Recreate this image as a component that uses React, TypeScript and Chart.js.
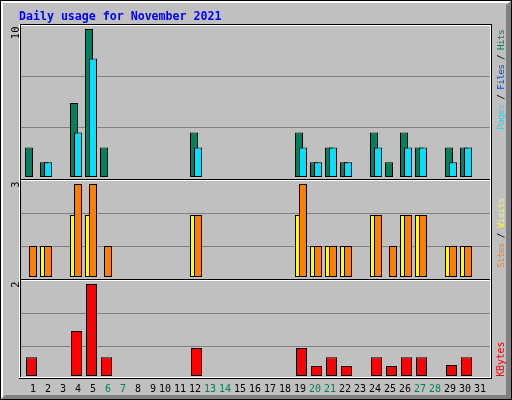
import { useEffect, useRef } from 'react';
import { Chart, registerables } from 'chart.js';

Chart.register(...registerables);

// ---------- data ----------
const TITLE = 'Daily usage for November 2021';
const DAYS = [1, 2, 3, 4, 5, 6, 7, 8, 9, 10, 11, 12, 13, 14, 15, 16, 17, 18, 19, 20, 21, 22, 23, 24, 25, 26, 27, 28, 29, 30, 31];
const WEEKEND_DAYS = [6, 7, 13, 14, 20, 21, 27, 28];
const HITS = [2, 1, 0, 5, 10, 2, 0, 0, 0, 0, 0, 3, 0, 0, 0, 0, 0, 0, 3, 1, 2, 1, 0, 3, 1, 3, 2, 0, 2, 2, 0];
const PAGES = [0, 1, 0, 3, 8, 0, 0, 0, 0, 0, 0, 2, 0, 0, 0, 0, 0, 0, 2, 1, 2, 1, 0, 2, 0, 2, 2, 0, 1, 2, 0];
const VISITS = [0, 1, 0, 2, 2, 0, 0, 0, 0, 0, 0, 2, 0, 0, 0, 0, 0, 0, 2, 1, 1, 1, 0, 2, 0, 2, 2, 0, 1, 1, 0];
const SITES = [1, 1, 0, 3, 3, 1, 0, 0, 0, 0, 0, 2, 0, 0, 0, 0, 0, 0, 3, 1, 1, 1, 0, 2, 1, 2, 2, 0, 1, 1, 0];
const KBYTES = [0.41, 0, 0, 0.98, 2.0, 0.41, 0, 0, 0, 0, 0, 0.61, 0, 0, 0, 0, 0, 0, 0.61, 0.22, 0.41, 0.22, 0, 0.41, 0.22, 0.41, 0.41, 0, 0.24, 0.41, 0];
const PANEL_MAX = [10, 3, 2];
const PANEL_MAX_LABELS = ['10', '3', '2'];

// ---------- styles ----------
const BG = '#C0C0C0';
const GRID = '#808080';
const C_HITS = '#00805C';
const C_FILES = '#0040FF';
const C_PAGES = '#00E0FF';
const C_VISITS = '#FFFF00';
const C_SITES = '#FF8000';
const C_KBYTES = '#FF0000';
const C_WEEKEND = '#00805C';
const MONO = '"DejaVu Sans Mono", monospace';

const RIGHT_LABELS = [
  [
    { text: 'Pages', color: C_PAGES },
    { text: ' / ', color: '#000000' },
    { text: 'Files', color: C_FILES },
    { text: ' / ', color: '#000000' },
    { text: 'Hits', color: C_HITS },
  ],
  [
    { text: 'Sites', color: C_SITES },
    { text: ' / ', color: '#000000' },
    { text: 'Visits', color: C_VISITS },
  ],
  [{ text: 'KBytes', color: C_KBYTES }],
];

// ---------- layout ----------
const AREA_TOP = 25;
const AREA_BOTTOM = 378;
const AREA_LEFT = 20;
const AREA_RIGHT = 490;
const DAY_PX = 15;
const FIRST_TICK_PX = 36;
const PANEL_TOPS = [25, 180, 280];
const GRID_STEPS = [51, 33, 33];
// base pixel and full-scale pixel of each panel
const PANEL_BASE = [177, 277, 376];
const PANEL_FULL = [29, 184, 284];

function panelRange(i: number) {
  const ppu = (PANEL_BASE[i] - PANEL_FULL[i]) / PANEL_MAX[i];
  return { min: -(AREA_BOTTOM - PANEL_BASE[i]) / ppu, max: (PANEL_BASE[i] - AREA_TOP) / ppu };
}

const X_MIN = 1 - (FIRST_TICK_PX - AREA_LEFT) / DAY_PX;
const X_MAX = X_MIN + (AREA_RIGHT - AREA_LEFT) / DAY_PX;
const SHIFT_BACK = -7 / DAY_PX;
const SHIFT_FRONT = -3 / DAY_PX;
const SHIFT_WIDE = -4.5 / DAY_PX;

const toPoints = (values: number[], shift: number) =>
  DAYS.map((d, i) => ({ x: d + shift, y: values[i] })).filter((p) => p.y > 0);

function barSet(label: string, values: number[], shift: number, color: string, axis: string, thick: number) {
  return {
    label,
    data: toPoints(values, shift),
    yAxisID: axis,
    backgroundColor: color,
    borderColor: '#000000',
    borderWidth: 1,
    borderSkipped: false,
    barThickness: thick,
    grouped: false,
    inflateAmount: 0,
  };
}

function drawUp(ctx: CanvasRenderingContext2D, segs: { text: string; color: string }[], x: number, yStart: number, font: string, spacing: number) {
  ctx.save();
  ctx.font = font;
  (ctx as any).letterSpacing = `${spacing}px`;
  ctx.textAlign = 'left';
  ctx.textBaseline = 'alphabetic';
  ctx.translate(x, yStart);
  ctx.rotate(-Math.PI / 2);
  let off = 0;
  for (const s of segs) {
    ctx.fillStyle = s.color;
    ctx.fillText(s.text, off, 0);
    off += ctx.measureText(s.text).width;
  }
  ctx.restore();
}

function widthOf(ctx: CanvasRenderingContext2D, segs: { text: string }[], font: string, spacing: number) {
  ctx.save();
  ctx.font = font;
  (ctx as any).letterSpacing = `${spacing}px`;
  const w = segs.reduce((a, s) => a + ctx.measureText(s.text).width, 0);
  ctx.restore();
  return w;
}

const webalizerPlugin = {
  id: 'webalizerFrame',
  beforeDraw(chart: any) {
    const ctx: CanvasRenderingContext2D = chart.ctx;
    const W = chart.width;
    const H = chart.height;
    ctx.save();
    ctx.fillStyle = BG;
    ctx.fillRect(0, 0, W, H);
    // highlight
    ctx.fillStyle = '#FFFFFF';
    ctx.fillRect(1, 1, W - 2, 2);
    ctx.fillRect(1, 1, 2, H - 2);
    // shadow
    ctx.fillStyle = '#808080';
    ctx.beginPath();
    ctx.moveTo(W - 1, 1);
    ctx.lineTo(W - 1, H - 1);
    ctx.lineTo(1, H - 1);
    ctx.lineTo(5, H - 5);
    ctx.lineTo(W - 6, H - 5);
    ctx.lineTo(W - 6, 5);
    ctx.closePath();
    ctx.fill();
    // outer black border
    ctx.strokeStyle = '#000000';
    ctx.lineWidth = 1;
    ctx.strokeRect(0.5, 0.5, W - 1, H - 1);

    // gridlines
    ctx.fillStyle = GRID;
    PANEL_TOPS.forEach((t, i) => {
      for (let k = 1; k <= 2; k++) ctx.fillRect(AREA_LEFT + 1, t + k * GRID_STEPS[i], AREA_RIGHT - AREA_LEFT - 1, 1);
    });

    // panel frames
    const L = AREA_LEFT;
    const R = AREA_RIGHT;
    ctx.fillStyle = '#000000';
    ctx.fillRect(L, 24, R - L + 2, 1);
    ctx.fillRect(L, 179, R - L + 1, 1);
    ctx.fillRect(L, 279, R - L + 1, 1);
    ctx.fillRect(L - 1, AREA_BOTTOM, R - L + 3, 1);
    ctx.fillRect(L, 24, 1, AREA_BOTTOM - 24);
    ctx.fillRect(R + 1, 24, 1, AREA_BOTTOM - 24);
    ctx.fillStyle = '#FFFFFF';
    ctx.fillRect(L + 1, 25, R - L - 1, 1);
    ctx.fillRect(L + 1, 180, R - L - 1, 1);
    ctx.fillRect(L + 1, 280, R - L - 1, 1);
    ctx.fillRect(L - 1, AREA_BOTTOM - 1, R - L + 2, 1);
    ctx.fillRect(L - 1, 24, 1, AREA_BOTTOM - 24);
    ctx.fillRect(R, 25, 1, AREA_BOTTOM - 25);
    ctx.restore();
  },
  afterDraw(chart: any) {
    const ctx: CanvasRenderingContext2D = chart.ctx;
    ctx.save();
    // title
    ctx.font = `bold 11.6px ${MONO}`;
    ctx.fillStyle = '#0000FF';
    ctx.textAlign = 'left';
    ctx.textBaseline = 'alphabetic';
    ctx.fillText(TITLE, 19, 19.5);
    ctx.restore();

    // left max labels (rotated, ending near panel top)
    const lf = `10.5px ${MONO}`;
    PANEL_MAX_LABELS.forEach((t, i) => {
      const segs = [{ text: t, color: '#000000' }];
      const w = widthOf(ctx, segs, lf, 0);
      drawUp(ctx, segs, 18.5, PANEL_TOPS[i] + 1.5 + w, lf, 0);
    });

    // right legends
    const rf = `9.4px ${MONO}`;
    const rs = -0.66;
    const kf = `10px ${MONO}`;
    const ks = -0.2;
    drawUp(ctx, RIGHT_LABELS[0], 503.5, 30 + widthOf(ctx, RIGHT_LABELS[0], rf, rs), rf, rs);
    drawUp(ctx, RIGHT_LABELS[1], 503.5, 198.3 + widthOf(ctx, RIGHT_LABELS[1], rf, rs), rf, rs);
    drawUp(ctx, RIGHT_LABELS[2], 503.5, 376.7, kf, ks);
  },
};

export default function App() {
  const ref = useRef<HTMLCanvasElement>(null);
  useEffect(() => {
    const canvas = ref.current;
    if (!canvas) return;
    const rH = panelRange(0);
    const rS = panelRange(1);
    const rK = panelRange(2);
    const chart = new Chart(canvas, {
      type: 'bar',
      data: {
        datasets: [
          barSet('Pages', PAGES, SHIFT_FRONT, C_PAGES, 'yH', 8),
          barSet('Hits', HITS, SHIFT_BACK, C_HITS, 'yH', 8),
          barSet('Sites', SITES, SHIFT_FRONT, C_SITES, 'yS', 8),
          barSet('Visits', VISITS, SHIFT_BACK, C_VISITS, 'yS', 8),
          barSet('KBytes', KBYTES, SHIFT_WIDE, C_KBYTES, 'yK', 11),
        ] as any,
      },
      options: {
        animation: false,
        responsive: false,
        devicePixelRatio: 1,
        events: [],
        layout: { padding: { left: AREA_LEFT, right: 512 - AREA_RIGHT, top: AREA_TOP, bottom: 0 } },
        plugins: {
          legend: { display: false },
          tooltip: { enabled: false },
          title: { display: false },
        },
        scales: {
          x: {
            type: 'linear',
            min: X_MIN,
            max: X_MAX,
            offset: false,
            grid: { display: false, drawTicks: false, offset: false },
            border: { display: false },
            afterBuildTicks: (s: any) => {
              s.ticks = DAYS.map((d) => ({ value: d }));
            },
            afterFit: (s: any) => {
              s.height = 400 - AREA_BOTTOM;
            },
            ticks: {
              autoSkip: false,
              maxRotation: 0,
              minRotation: 0,
              align: 'end',
              padding: 5,
              font: { family: MONO, size: 10 },
              color: (c: any) => (WEEKEND_DAYS.includes(c.tick?.value) ? C_WEEKEND : '#000000'),
              callback: (v: any) => String(v),
            },
          },
          yH: { type: 'linear', display: false, min: rH.min, max: rH.max },
          yS: { type: 'linear', display: false, min: rS.min, max: rS.max },
          yK: { type: 'linear', display: false, min: rK.min, max: rK.max },
        },
      } as any,
      plugins: [webalizerPlugin],
    });
    return () => chart.destroy();
  }, []);
  return (
    <div style={{ position: 'fixed', left: 0, top: 0, width: 512, height: 400 }}>
      <canvas ref={ref} width={512} height={400} style={{ display: 'block', width: 512, height: 400 }} />
    </div>
  );
}
